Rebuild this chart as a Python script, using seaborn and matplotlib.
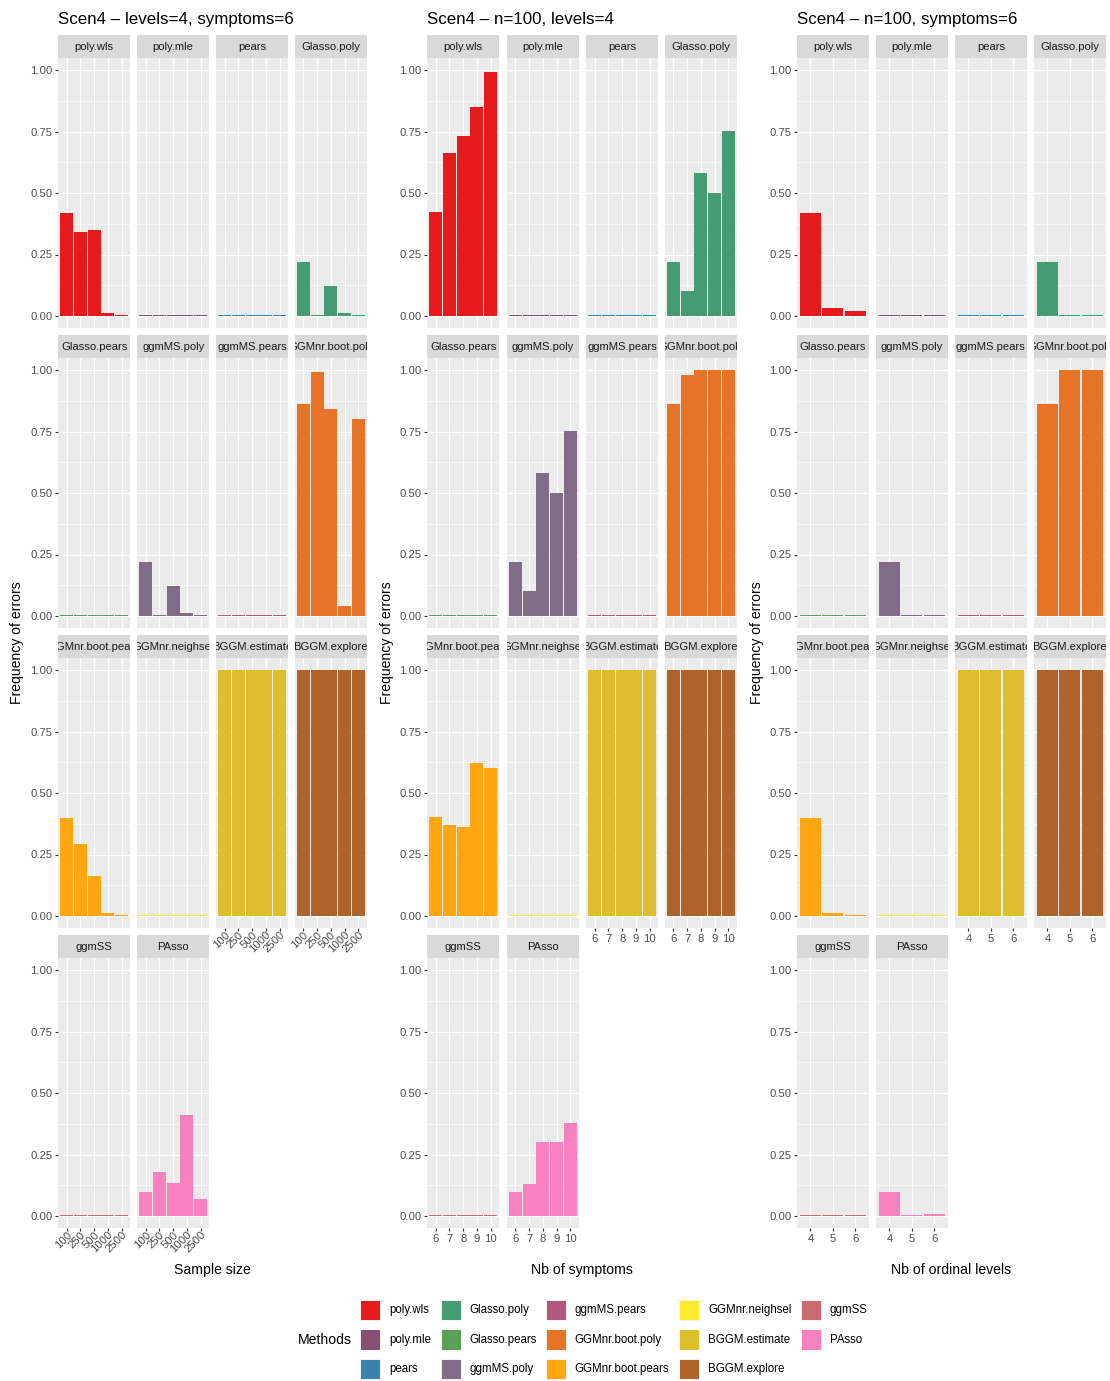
import matplotlib
matplotlib.use("Agg")
import matplotlib.pyplot as plt
from matplotlib.patches import Rectangle
from matplotlib.ticker import NullLocator
import pandas as pd
import seaborn as sns

plt.rcParams["font.family"] = ["Liberation Sans", "DejaVu Sans"]

# ---------------------------------------------------------------- data
methods = ["poly.wls", "poly.mle", "pears", "Glasso.poly", "Glasso.pears",
           "ggmMS.poly", "ggmMS.pears", "GGMnr.boot.poly", "GGMnr.boot.pears",
           "GGMnr.neighsel", "BGGM.estimate", "BGGM.explore", "ggmSS", "PAsso"]

# colorRampPalette(brewer.pal(8, "Set1"))(14)
method_colors = ["#E41A1C", "#875070", "#3982B0", "#459C74", "#59A058",
                 "#816C88", "#B0597D", "#E77426", "#FFA610", "#FFEB2B",
                 "#DDBE2F", "#AD6329", "#CB6A6E", "#F781BF"]

sample_sizes = ["100", "250", "500", "1000", "2500"]
symptom_counts = ["6", "7", "8", "9", "10"]
ordinal_levels = ["4", "5", "6"]

# frequency of errors, one row per method (same order as `methods`)
freq_by_sample_size = [
    [0.42, 0.34, 0.35, 0.011, 0.005],
    [0.005, 0.005, 0.005, 0.005, 0.005],
    [0.005, 0.005, 0.005, 0.005, 0.005],
    [0.22, 0.005, 0.122, 0.012, 0.005],
    [0.005, 0.005, 0.005, 0.005, 0.005],
    [0.22, 0.005, 0.122, 0.012, 0.005],
    [0.005, 0.005, 0.005, 0.005, 0.005],
    [0.862, 0.99, 0.84, 0.041, 0.80],
    [0.40, 0.293, 0.163, 0.012, 0.005],
    [0.005, 0.005, 0.005, 0.005, 0.005],
    [1.0, 1.0, 1.0, 1.0, 1.0],
    [1.0, 1.0, 1.0, 1.0, 1.0],
    [0.005, 0.005, 0.005, 0.005, 0.005],
    [0.098, 0.179, 0.134, 0.41, 0.069],
]

freq_by_symptoms = [
    [0.423, 0.663, 0.732, 0.85, 0.992],
    [0.005, 0.005, 0.005, 0.005, 0.005],
    [0.005, 0.005, 0.005, 0.005, 0.005],
    [0.22, 0.10, 0.581, 0.50, 0.752],
    [0.005, 0.005, 0.005, 0.005, 0.005],
    [0.22, 0.10, 0.581, 0.50, 0.752],
    [0.005, 0.005, 0.005, 0.005, 0.005],
    [0.862, 0.98, 1.0, 1.0, 1.0],
    [0.401, 0.37, 0.362, 0.622, 0.602],
    [0.005, 0.005, 0.005, 0.005, 0.005],
    [1.0, 1.0, 1.0, 1.0, 1.0],
    [1.0, 1.0, 1.0, 1.0, 1.0],
    [0.005, 0.005, 0.005, 0.005, 0.005],
    [0.098, 0.13, 0.302, 0.302, 0.379],
]

freq_by_levels = [
    [0.42, 0.033, 0.02],
    [0.005, 0.005, 0.005],
    [0.005, 0.005, 0.005],
    [0.22, 0.005, 0.005],
    [0.005, 0.005, 0.005],
    [0.22, 0.005, 0.005],
    [0.005, 0.005, 0.005],
    [0.862, 1.0, 1.0],
    [0.40, 0.011, 0.005],
    [0.005, 0.005, 0.005],
    [1.0, 1.0, 1.0],
    [1.0, 1.0, 1.0],
    [0.005, 0.005, 0.005],
    [0.098, 0.005, 0.008],
]

titles = ["Scen4 \u2013 levels=4, symptoms=6",
          "Scen4 \u2013 n=100, levels=4",
          "Scen4 \u2013 n=100, symptoms=6"]
x_titles = ["Sample size", "Nb of symptoms", "Nb of ordinal levels"]
y_title = "Frequency of errors"
legend_title = "Methods"

# ---------------------------------------------------------------- layout
W, H = 1110, 1381
fig = plt.figure(figsize=(W / 100, H / 100), dpi=100)
fig.patch.set_facecolor("white")


def px_axes(left, top, width, height):
    return fig.add_axes([left / W, 1 - (top + height) / H, width / W, height / H])


PANEL_W = 71.7
STRIP_H = 22.7
PANEL_H = 270.6
ROW0 = 35.0
ROW_STEP = 300.0
SMALL = 8.1
MID = 10.1
BIG = 12.2

groups = [
    dict(cats=sample_sizes, values=freq_by_sample_size,
         lefts=[58.3, 137.3, 216.3, 295.0], bar_w=0.94, rotate=True),
    dict(cats=symptom_counts, values=freq_by_symptoms,
         lefts=[427.3, 507.0, 586.3, 665.0], bar_w=0.94, rotate=False),
    dict(cats=ordinal_levels, values=freq_by_levels,
         lefts=[797.0, 876.0, 955.0, 1034.0], bar_w=0.925, rotate=False),
]

ov = fig.add_axes([0, 0, 1, 1])
ov.set_xlim(0, W)
ov.set_ylim(H, 0)
ov.axis("off")

for gi, g in enumerate(groups):
    cats = g["cats"]
    rows = []
    for m, vals in zip(methods, g["values"]):
        for c, v in zip(cats, vals):
            rows.append((m, c, v))
    df = pd.DataFrame(rows, columns=["method", "level", "freq"])

    n_methods = len(methods)
    for k, m in enumerate(methods):
        r, c = divmod(k, 4)
        left = g["lefts"][c]
        top = ROW0 + r * ROW_STEP

        # facet strip
        sax = px_axes(left, top, PANEL_W, STRIP_H)
        sax.set_facecolor("#D9D9D9")
        sax.set_xticks([])
        sax.set_yticks([])
        for sp in sax.spines.values():
            sp.set_visible(False)
        sax.text(0.5, 0.47, m, transform=sax.transAxes, ha="center",
                 va="center", fontsize=SMALL, color="#1A1A1A", clip_on=True)

        # panel
        ax = px_axes(left, top + STRIP_H, PANEL_W, PANEL_H)
        sub = df[df["method"] == m]
        sns.barplot(data=sub, x="level", y="freq", order=cats,
                    color=method_colors[k], saturation=1, width=g["bar_w"],
                    linewidth=0, edgecolor="none", errorbar=None, ax=ax)
        ax.set_xlim(-0.6, len(cats) - 0.4)
        ax.set_ylim(-0.05, 1.05)
        ax.set_facecolor("#EBEBEB")
        for sp in ax.spines.values():
            sp.set_visible(False)
        ax.set_xlabel("")
        ax.set_ylabel("")
        ax.set_yticks([0, 0.25, 0.5, 0.75, 1.0])
        ax.set_yticks([0.125, 0.375, 0.625, 0.875], minor=True)
        ax.xaxis.set_minor_locator(NullLocator())
        ax.set_axisbelow(True)
        ax.grid(which="major", color="white", linewidth=0.9)
        ax.grid(which="minor", axis="y", color="white", linewidth=0.45)
        ax.tick_params(which="minor", length=0)

        if c == 0:
            ax.set_yticklabels(["0.00", "0.25", "0.50", "0.75", "1.00"])
            ax.tick_params(axis="y", length=2.3, width=0.8, color="#333333",
                           labelsize=SMALL, labelcolor="#4D4D4D", pad=1.8)
        else:
            ax.tick_params(axis="y", length=0, labelleft=False)

        is_bottom = (k + 4) >= n_methods
        if is_bottom:
            ax.set_xticks(range(len(cats)))
            ax.set_xticklabels(cats)
            ax.tick_params(axis="x", length=2.3, width=0.8, color="#333333",
                           labelsize=SMALL, labelcolor="#4D4D4D",
                           pad=-1.5 if g["rotate"] else 1.8)
            if g["rotate"]:
                plt.setp(ax.get_xticklabels(), rotation=45, ha="right",
                         va="top", rotation_mode="anchor")
        else:
            ax.tick_params(axis="x", length=0, labelbottom=False)

    # group titles
    x0 = g["lefts"][0]
    x1 = g["lefts"][3] + PANEL_W
    ov.text(x0, 19, titles[gi], ha="left", va="center", fontsize=BIG,
            color="black")
    ov.text(17 + 370 * gi, 643, y_title, ha="center", va="center",
            rotation=90, fontsize=MID, color="black")
    ov.text((x0 + x1) / 2, 1270, x_titles[gi], ha="center", va="center",
            fontsize=MID, color="black")

# ---------------------------------------------------------------- legend
key_lefts = [360.0, 441.0, 546.0, 679.0, 801.0]
text_lefts = [389.0, 469.0, 574.5, 708.0, 830.0]
key_tops = [1300.0, 1329.5, 1359.0]
KEY = 20.7
ov.text(324.5, 1340, legend_title, ha="center", va="center", fontsize=MID,
        color="black")
for k, m in enumerate(methods):
    col, row = divmod(k, 3)
    kx, ky = key_lefts[col], key_tops[row]
    ov.add_patch(Rectangle((kx, ky), KEY, KEY, facecolor="#F2F2F2",
                           edgecolor="none"))
    ov.add_patch(Rectangle((kx + 0.6, ky + 0.6), KEY - 1.2, KEY - 1.2,
                           facecolor=method_colors[k], edgecolor="none"))
    ov.text(text_lefts[col], ky + KEY / 2, m, ha="left", va="center",
            fontsize=8.3, color="black")

fig.savefig("out.png", dpi=100, facecolor="white")
